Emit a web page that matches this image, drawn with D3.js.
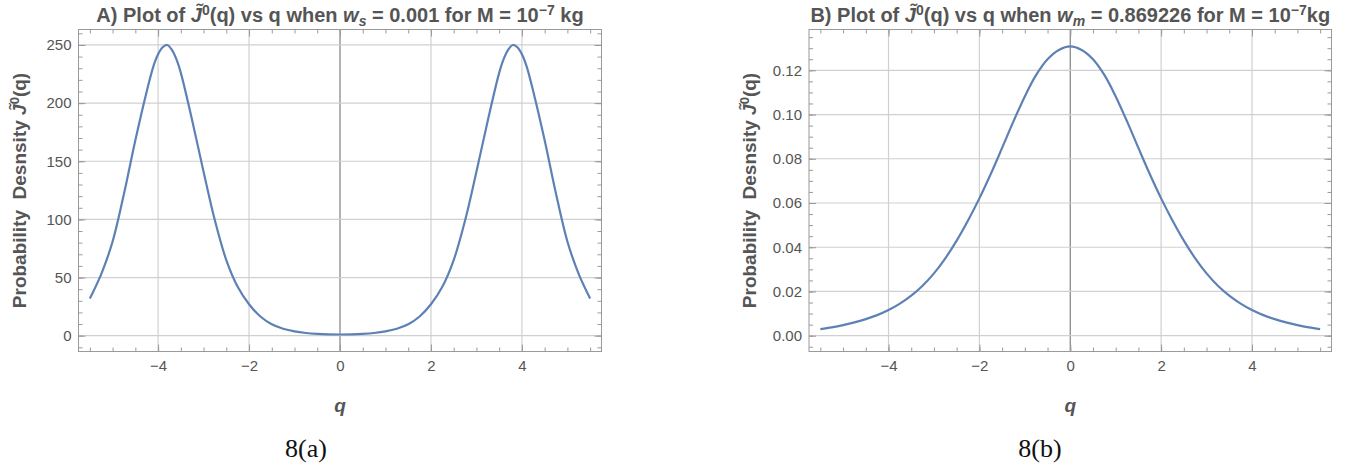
<!DOCTYPE html>
<html><head><meta charset="utf-8">
<script src="https://cdn.jsdelivr.net/npm/d3@7"></script>
<style>body{margin:0;background:#fff}svg{display:block}</style>
</head><body>
<svg id="c" width="1347" height="468"></svg>
<script>
// ---- data ----
const qA = [-5.5,-5.25,-5,-4.75,-4.5,-4.25,-4.1,-4,-3.9,-3.8,-3.7,-3.6,-3.5,-3.25,-3,-2.75,-2.5,-2.25,-2,-1.75,-1.5,-1.25,-1,-0.75,-0.5,-0.25,0,0.25,0.5,0.75,1,1.25,1.5,1.75,2,2.25,2.5,2.75,3,3.25,3.5,3.6,3.7,3.8,3.9,4,4.1,4.25,4.5,4.75,5,5.25,5.5];
const valA = [32,53,81,122,168,210,232,242,248,250,246,238,226,185,141,99,65,42,27,16.5,9.8,6.0,3.7,2.3,1.5,1.1,1.0,1.1,1.5,2.3,3.7,6.0,9.8,16.5,27,42,65,99,141,185,226,238,246,250,248,242,232,210,168,122,81,53,32];
const qB = [-5.5,-5.25,-5,-4.75,-4.5,-4.25,-4,-3.75,-3.5,-3.25,-3,-2.75,-2.5,-2.25,-2,-1.75,-1.5,-1.25,-1,-0.75,-0.5,-0.25,0,0.25,0.5,0.75,1,1.25,1.5,1.75,2,2.25,2.5,2.75,3,3.25,3.5,3.75,4,4.25,4.5,4.75,5,5.25,5.5];
const valB = [0.0030,0.0038,0.0048,0.0060,0.0075,0.0093,0.0116,0.0145,0.0181,0.0226,0.0282,0.0350,0.0430,0.0521,0.0621,0.0731,0.0849,0.0969,0.1082,0.1179,0.1250,0.1292,0.1308,0.1292,0.1250,0.1179,0.1082,0.0969,0.0849,0.0731,0.0621,0.0521,0.0430,0.0350,0.0282,0.0226,0.0181,0.0145,0.0116,0.0093,0.0075,0.0060,0.0048,0.0038,0.0030];
const xTicks = [-4,-2,0,2,4];
const yTicksA = [0,50,100,150,200,250];
const yTicksB = [0,0.02,0.04,0.06,0.08,0.10,0.12];
const yLabelsB = ["0.00","0.02","0.04","0.06","0.08","0.10","0.12"];

const svg = d3.select("#c");
const LINE = "#5e81b5", GRID = "#d0d0d0", FRAME = "#9a9a9a", TXT = "#555";

function panel(o){
  const g = svg.append("g");
  const x = d3.scaleLinear().domain([-5.75,5.75]).range([o.left,o.right]);
  const y = d3.scaleLinear().domain(o.ydom).range([o.bottom,o.top]);
  // grid
  g.selectAll(".gx").data(xTicks).join("line")
    .attr("x1",d=>x(d)).attr("x2",d=>x(d)).attr("y1",o.top).attr("y2",o.bottom)
    .attr("stroke",d=>d===0?"#808080":GRID).attr("stroke-width",1.2);
  g.selectAll(".gy").data(o.yticks).join("line")
    .attr("x1",o.left).attr("x2",o.right).attr("y1",d=>y(d)).attr("y2",d=>y(d))
    .attr("stroke",GRID).attr("stroke-width",1.2);
  // frame
  g.append("rect").attr("x",o.left).attr("y",o.top).attr("width",o.right-o.left).attr("height",o.bottom-o.top)
    .attr("fill","none").attr("stroke",FRAME).attr("stroke-width",1);
  // ticks via axes (inside)
  const xMinor = d3.range(-5.5,5.51,0.5);
  const yMinor = d3.range(o.minorStart,o.ydom[1],o.minorStep);
  function inner(vals,len){
    return [[d3.axisTop(x),`translate(0,${o.bottom})`,vals.x],[d3.axisBottom(x),`translate(0,${o.top})`,vals.x],
            [d3.axisRight(y),`translate(${o.left},0)`,vals.y],[d3.axisLeft(y),`translate(${o.right},0)`,vals.y]]
      .forEach(([a,t,v])=>{
        const s=g.append("g").attr("transform",t).call(a.tickValues(v).tickSize(len).tickFormat(""));
        s.select(".domain").remove();
        s.selectAll("line").attr("stroke",FRAME);
      });
  }
  inner({x:xMinor,y:yMinor},4);
  inner({x:xTicks,y:o.yticks},7);
  // tick labels
  const xl = d3.axisBottom(x).tickValues(xTicks).tickSize(0).tickPadding(9).tickFormat(d=>d<0?"\u2212"+(-d):d);
  const sx = g.append("g").attr("transform",`translate(0,${o.bottom})`).call(xl);
  sx.select(".domain").remove();
  sx.selectAll("text").attr("fill",TXT).attr("font-size",15).attr("font-family","Liberation Sans, Arial, sans-serif");
  const yl = d3.axisLeft(y).tickValues(o.yticks).tickSize(0).tickPadding(7).tickFormat((d,i)=>o.ylabels[i]);
  const sy = g.append("g").attr("transform",`translate(${o.left},0)`).call(yl);
  sy.select(".domain").remove();
  sy.selectAll("text").attr("fill",TXT).attr("font-size",15).attr("font-family","Liberation Sans, Arial, sans-serif");
  // curve
  const pts = o.q.map((q,i)=>[q,o.v[i]]);
  g.append("path").datum(pts)
    .attr("d",d3.line().x(d=>x(d[0])).y(d=>y(d[1])).curve(d3.curveCatmullRom.alpha(0.5)))
    .attr("fill","none").attr("stroke",LINE).attr("stroke-width",2.2);
  // title
  const cx = x(0);
  const t = g.append("text").attr("x",cx).attr("y",22).attr("text-anchor","middle")
    .attr("font-family","Liberation Sans Narrow, Arial Narrow, Liberation Sans, sans-serif")
    .attr("font-weight","bold").attr("font-size",20).attr("fill",TXT);
  t.append("tspan").text(o.tag+") Plot of ");
  t.append("tspan").attr("font-style","italic").text("J\u0303");
  t.append("tspan").attr("dy",-7).attr("font-size",14).text("0");
  t.append("tspan").attr("dy",7).text("(q) vs q when ");
  t.append("tspan").attr("font-style","italic").text("w");
  t.append("tspan").attr("dy",4).attr("font-size",14).attr("font-style","italic").text(o.sub);
  t.append("tspan").attr("dy",-4).text(" = "+o.wval+" for M = 10");
  t.append("tspan").attr("dy",-7).attr("font-size",14).text("\u22127");
  t.append("tspan").attr("dy",7).text(o.kg);
  // y label
  const yt = g.append("text").attr("transform",`translate(${o.ylabX},${(o.top+o.bottom)/2}) rotate(-90)`)
    .attr("text-anchor","middle").attr("font-family","Liberation Sans, Arial, sans-serif")
    .attr("font-weight","bold").attr("font-size",19).attr("fill",TXT);
  yt.append("tspan").text("Probability\u00a0\u00a0Desnsity ");
  yt.append("tspan").attr("font-style","italic").text("J\u0303");
  yt.append("tspan").attr("dy",-7).attr("font-size",13).text("0");
  yt.append("tspan").attr("dy",7).text("(q)");
  // x label
  g.append("text").attr("x",cx).attr("y",412).attr("text-anchor","middle")
    .attr("font-family","Liberation Sans, Arial, sans-serif").attr("font-weight","bold").attr("font-style","italic")
    .attr("font-size",19).attr("fill",TXT).text("q");
  // caption
  g.append("text").attr("x",o.capX).attr("y",457).attr("text-anchor","middle")
    .attr("font-family","Liberation Serif, DejaVu Serif, serif").attr("font-size",26).attr("fill","#111").text(o.cap);
}

panel({tag:"A",sub:"s",wval:"0.001",kg:" kg",left:78.5,right:601.5,top:29.5,bottom:351.5,
  ydom:[-13.6,263.3],yticks:yTicksA,ylabels:yTicksA.map(String),minorStart:-10,minorStep:10,
  q:qA,v:valA,ylabX:26,capX:306,cap:"8(a)"});
panel({tag:"B",sub:"m",wval:"0.869226",kg:"kg",left:809,right:1331.5,top:29.5,bottom:351.5,
  ydom:[-0.00714,0.13845],yticks:yTicksB,ylabels:yLabelsB,minorStart:-0.005,minorStep:0.005,
  q:qB,v:valB,ylabX:756,capX:1040,cap:"8(b)"});
</script>
</body></html>
